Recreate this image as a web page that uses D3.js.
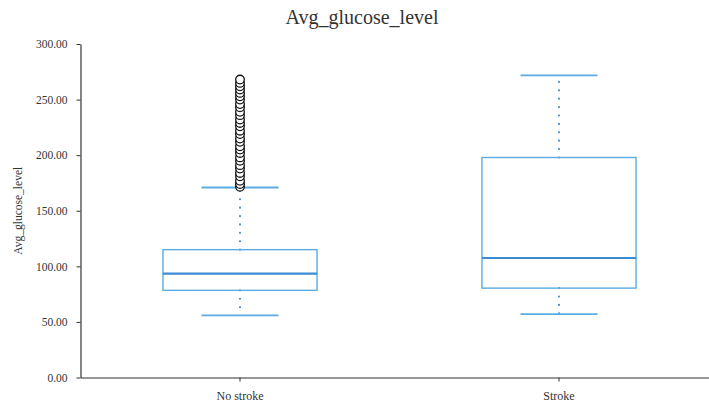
<!DOCTYPE html>
<html><head><meta charset="utf-8">
<script src="https://cdn.jsdelivr.net/npm/d3@7"></script>
<style>body{margin:0;background:#fff}svg{display:block}</style>
</head><body>
<svg id="c" width="709" height="403"></svg>
<script>
const categories = ["No stroke", "Stroke"];
const mins = [55.9, 57.0];
const q1s = [78.4, 80.4];
const medians = [93.4, 107.5];
const q3s = [115.0, 197.9];
const maxs = [170.9, 271.7];
const outliersNoStroke = [171.5,174,177,181,184,188,191,195,198,202,205,208,212,215,219,222,226,229,232,236,239,243,246,250,253,256,259,262,265,268];
const outliers = [outliersNoStroke, []];
const yTicks = [0,50,100,150,200,250,300];
const title = "Avg_glucose_level";
const yTitle = "Avg_glucose_level";

const FONT = "'Liberation Serif', 'Times New Roman', serif";
const svg = d3.select("#c");
const x = d3.scaleBand().domain(categories).range([80.5, 718.5]).paddingInner(0).paddingOuter(0);
const y = d3.scaleLinear().domain([0,300]).range([377.5, 44]);
const boxW = x.bandwidth()*0.483;
const capW = boxW*0.5;

const yAxis = d3.axisLeft(y).tickValues(yTicks).tickFormat(d3.format(".2f")).tickSize(4).tickSizeOuter(0);
const gy = svg.append("g").attr("transform","translate(80.5,0)").call(yAxis);
gy.attr("font-family",null);
gy.select(".domain").attr("stroke","#333").attr("stroke-width",1.2);
gy.selectAll(".tick line").attr("stroke","#333");
gy.selectAll(".tick text").attr("x",-13).style("font-family",FONT).style("font-size","11.5px").style("fill","#333");

const xAxis = d3.axisBottom(x).tickSize(4).tickSizeOuter(0);
const gx = svg.append("g").attr("transform","translate(0,377.5)").call(xAxis);
gx.attr("font-family",null);
gx.select(".domain").attr("stroke","#333").attr("stroke-width",1.2);
gx.selectAll(".tick line").attr("stroke","#333");
gx.selectAll(".tick text").attr("dy","1.25em").style("font-family",FONT).style("font-size","12px").style("fill","#333");

svg.append("text").attr("x",362).attr("y",23.5).attr("text-anchor","middle")
  .style("font-family",FONT).style("font-size","20px").style("fill","#333").text(title);
svg.append("text").attr("transform","translate(22,"+((y(0)+y(300))/2)+") rotate(-90)").attr("text-anchor","middle")
  .style("font-family",FONT).style("font-size","11.5px").style("fill","#333").text(yTitle);

const boxColor = "#5aace2", medColor = "#3a8bd4", dotColor = "#4d8ec9";
categories.forEach((c,i)=>{
  const cx = x(c)+x.bandwidth()/2;
  const g = svg.append("g");
  g.append("line").attr("x1",cx).attr("x2",cx).attr("y1",y(q3s[i])).attr("y2",y(maxs[i]))
   .attr("stroke",dotColor).attr("stroke-width",2.2).attr("stroke-linecap","round").attr("stroke-dasharray","0,8.4");
  g.append("line").attr("x1",cx).attr("x2",cx).attr("y1",y(q1s[i])).attr("y2",y(mins[i]))
   .attr("stroke",dotColor).attr("stroke-width",2.2).attr("stroke-linecap","round").attr("stroke-dasharray","0,8.4");
  [mins[i],maxs[i]].forEach(v=>{
    g.append("line").attr("x1",cx-capW/2).attr("x2",cx+capW/2).attr("y1",y(v)).attr("y2",y(v))
     .attr("stroke",boxColor).attr("stroke-width",1.8);
  });
  g.append("rect").attr("x",cx-boxW/2).attr("y",y(q3s[i])).attr("width",boxW).attr("height",y(q1s[i])-y(q3s[i]))
   .attr("fill","none").attr("stroke",boxColor).attr("stroke-width",1.4);
  g.append("line").attr("x1",cx-boxW/2).attr("x2",cx+boxW/2).attr("y1",y(medians[i])).attr("y2",y(medians[i]))
   .attr("stroke",medColor).attr("stroke-width",2.2);
  g.selectAll("circle").data(outliers[i]).join("circle")
   .attr("cx",cx).attr("cy",d=>y(d)).attr("r",4.3)
   .attr("fill","#fff").attr("stroke","#111").attr("stroke-width",1.3);
});
</script>
</body></html>
